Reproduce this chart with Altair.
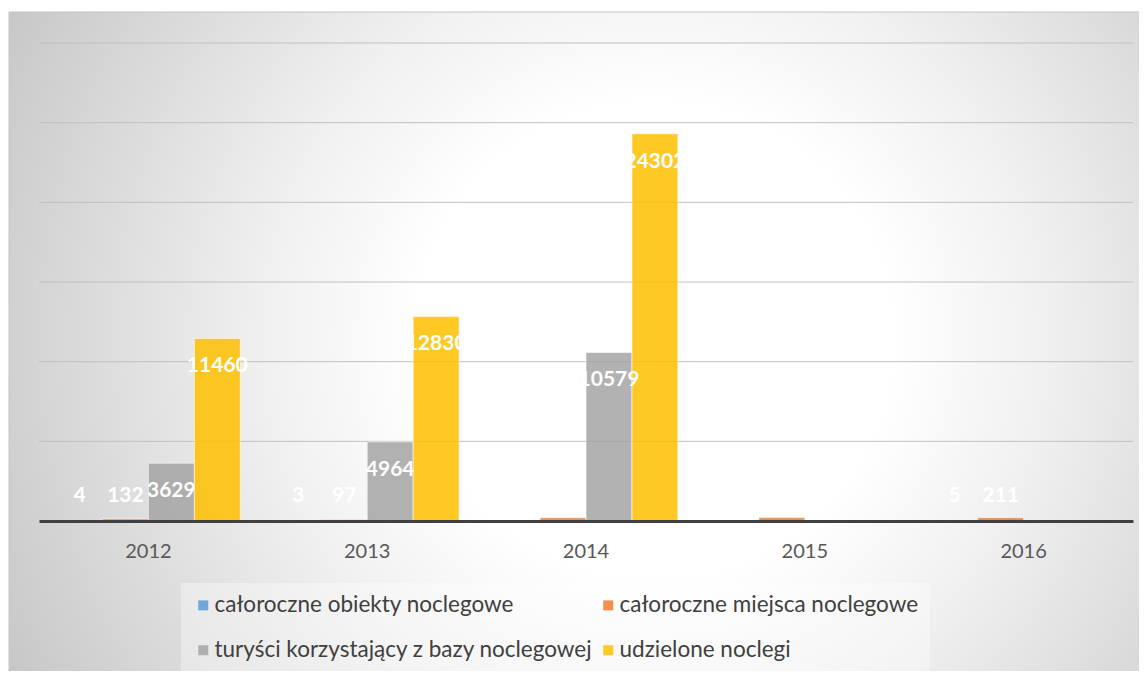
import altair as alt
import pandas as pd

years = ["2012", "2013", "2014", "2015", "2016"]
series = [
    "całoroczne obiekty noclegowe",
    "całoroczne miejsca noclegowe",
    "turyści korzystający z bazy noclegowej",
    "udzielone noclegi",
]
obiekty = [4, 3, 5, 5, 5]
miejsca = [132, 97, 205, 215, 211]
turysci = [3629, 4964, 10579, None, None]
noclegi = [11460, 12830, 24302, None, None]
colors = ["#5B9BD5", "#ED7D31", "#A5A5A5", "#FFC000"]
grid_values = [5000, 10000, 15000, 20000, 25000, 30000]

rows = []
for s, vals in zip(series, [obiekty, miejsca, turysci, noclegi]):
    for y, v in zip(years, vals):
        if v is not None:
            rows.append({"year": y, "series": s, "value": v})
df = pd.DataFrame(rows)

FONT = "Lato"

bg = alt.Chart(pd.DataFrame({"a": [0]})).mark_rect(
    fill=alt.RadialGradient(
        gradient="radial",
        stops=[
            alt.GradientStop(offset=0, color="#ffffff"),
            alt.GradientStop(offset=0.3, color="#ffffff"),
            alt.GradientStop(offset=0.5, color="#f0f0f0"),
            alt.GradientStop(offset=0.75, color="#d8d8d8"),
            alt.GradientStop(offset=1, color="#c0c0c0"),
        ],
        x1=0.553, y1=0.229, r1=0,
        x2=0.553, y2=0.229, r2=0.55,
    ),
    stroke="#c4c4c4",
    strokeWidth=1,
).encode(
    x=alt.value(-30), x2=alt.value(1110), y=alt.value(-31), y2=alt.value(1400)
)

grid = alt.Chart(pd.DataFrame({"g": grid_values})).mark_rule(
    color="#c0c0c0", strokeWidth=1
).encode(y=alt.Y("g:Q", scale=alt.Scale(domain=[0, 30000], nice=False), axis=None))

base = alt.Chart(df).encode(
    x=alt.X(
        "year:N",
        sort=years,
        scale=alt.Scale(paddingInner=0.16, paddingOuter=0.08),
        axis=alt.Axis(
            title=None, labelAngle=0, ticks=False, grid=False,
            domainColor="#404040", domainWidth=3,
            labelFont=FONT, labelFontSize=20, labelColor="#595959",
            labelPadding=20, zindex=1,
        ),
    ),
    xOffset=alt.XOffset("series:N", sort=series,
                        scale=alt.Scale(paddingInner=0, paddingOuter=0)),
)

bars = base.mark_bar(
    stroke="white", strokeWidth=1, strokeOpacity=0.6, opacity=0.85
).encode(
    y=alt.Y("value:Q", scale=alt.Scale(domain=[0, 30000], nice=False), axis=None),
    color=alt.Color(
        "series:N",
        sort=series,
        scale=alt.Scale(domain=series, range=colors),
        legend=alt.Legend(
            title=None, orient="none", legendX=142, legendY=540,
            columns=2, direction="horizontal",
            symbolType="square", symbolSize=100, symbolStrokeWidth=0,
            symbolOpacity=0.85,
            labelFont=FONT, labelFontSize=22.5, labelColor="#404040",
            labelOffset=0, rowPadding=22, columnPadding=4,
            padding=11, fillColor="rgba(255,255,255,0.35)",
            labelLimit=600, zindex=1,
        ),
    ),
)

labels = base.transform_calculate(
    lab="datum.value > 3000 ? datum.value - 1750 : 1550"
).mark_text(
    color="white", fontWeight="bold", fontSize=21, font=FONT,
    align="center", baseline="middle",
).encode(
    y=alt.Y("lab:Q", scale=alt.Scale(domain=[0, 30000], nice=False), axis=None),
    text=alt.Text("value:Q", format="d"),
)

chart = alt.layer(bg, grid, bars, labels).properties(
    width=1094,
    height=478,
    padding={"left": 31, "top": 35, "right": 6, "bottom": 150},
    autosize=alt.AutoSizeParams(type="none"),
    background="white",
).configure_view(stroke=None)

chart.save("out.html", embed_options={"renderer": "svg", "actions": False})
